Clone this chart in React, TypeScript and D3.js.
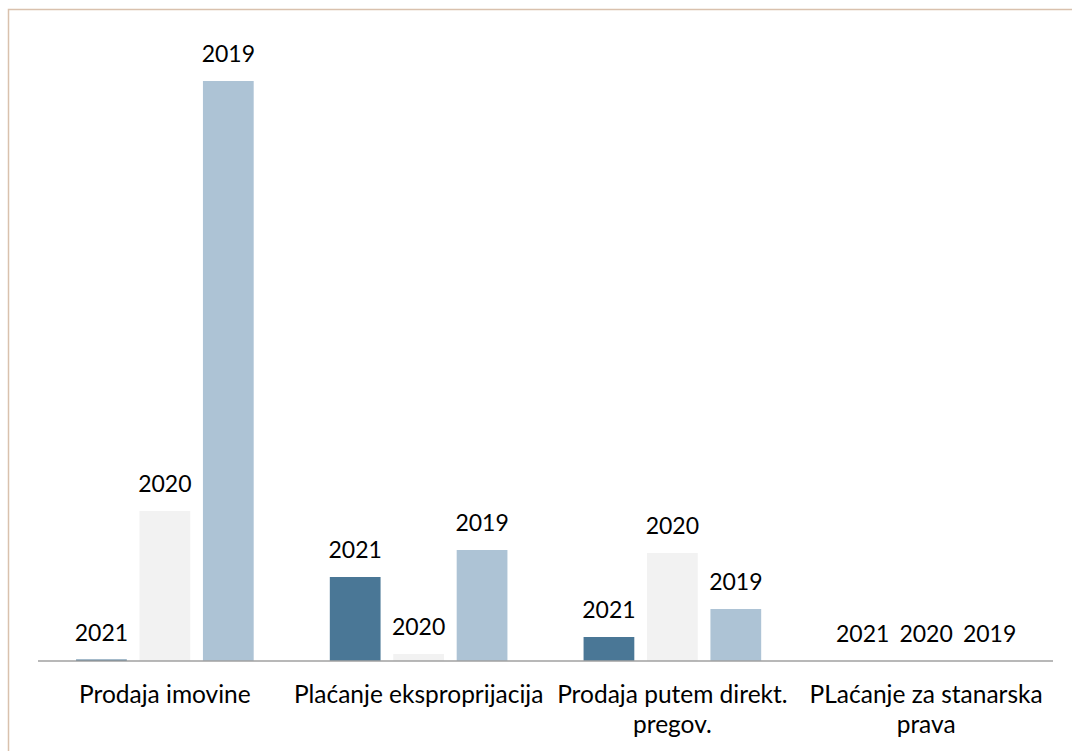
import React from "react";
import * as d3 from "d3";

const categories = [
  ["Prodaja imovine"],
  ["Plaćanje eksproprijacija"],
  ["Prodaja putem direkt.", "pregov."],
  ["PLaćanje za stanarska", "prava"],
];
const years = ["2021", "2020", "2019"];
const values2021 = [1.5, 84, 24, 0];
const values2020 = [150, 7, 108, 0];
const values2019 = [580, 111, 52, 0];
const colors = ["#4a7796", "#f2f2f2", "#adc3d5"];

const W = 1072;
const H = 751;

export default function App() {
  const series = [values2021, values2020, values2019];
  const x0 = d3
    .scaleBand<number>()
    .domain(categories.map((_, i) => i))
    .range([38, 1053])
    .paddingInner(0.3)
    .paddingOuter(0.15);
  const x1 = d3
    .scaleBand<string>()
    .domain(years)
    .range([0, x0.bandwidth()])
    .paddingInner(0.2)
    .paddingOuter(0);
  const y = d3.scaleLinear().domain([0, 580]).range([661, 81]);
  const font = "Lato, 'Open Sans', sans-serif";

  return (
    <svg
      width={W}
      height={H}
      style={{ position: "absolute", left: 0, top: 0, display: "block" }}
    >
      <rect x={0} y={0} width={W} height={H} fill="#ffffff" />
      <rect
        x={8.5}
        y={9.5}
        width={1075}
        height={750}
        fill="none"
        stroke="#d9c1ad"
        strokeWidth={1.5}
      />
      {categories.map((_, ci) =>
        years.map((yr, si) => {
          const v = series[si][ci];
          const bx = (x0(ci) ?? 0) + (x1(yr) ?? 0);
          const top = y(v);
          return (
            <g key={`${ci}-${yr}`}>
              <rect
                x={bx}
                y={top}
                width={x1.bandwidth()}
                height={y(0) - top}
                fill={colors[si]}
              />
              <text
                x={bx + x1.bandwidth() / 2}
                y={top - 19}
                textAnchor="middle"
                fontFamily={font}
                fontSize={23}
                fill="#000"
              >
                {yr}
              </text>
            </g>
          );
        })
      )}
      <line x1={38} x2={1053} y1={661} y2={661} stroke="#a0a0a0" strokeWidth={1.5} />
      {categories.map((lines, ci) => (
        <text
          key={ci}
          x={(x0(ci) ?? 0) + x0.bandwidth() / 2}
          y={703}
          textAnchor="middle"
          fontFamily={font}
          fontSize={24.5}
          fill="#000"
        >
          {lines.map((l, li) => (
            <tspan key={li} x={(x0(ci) ?? 0) + x0.bandwidth() / 2} dy={li === 0 ? 0 : 30}>
              {l}
            </tspan>
          ))}
        </text>
      ))}
    </svg>
  );
}
